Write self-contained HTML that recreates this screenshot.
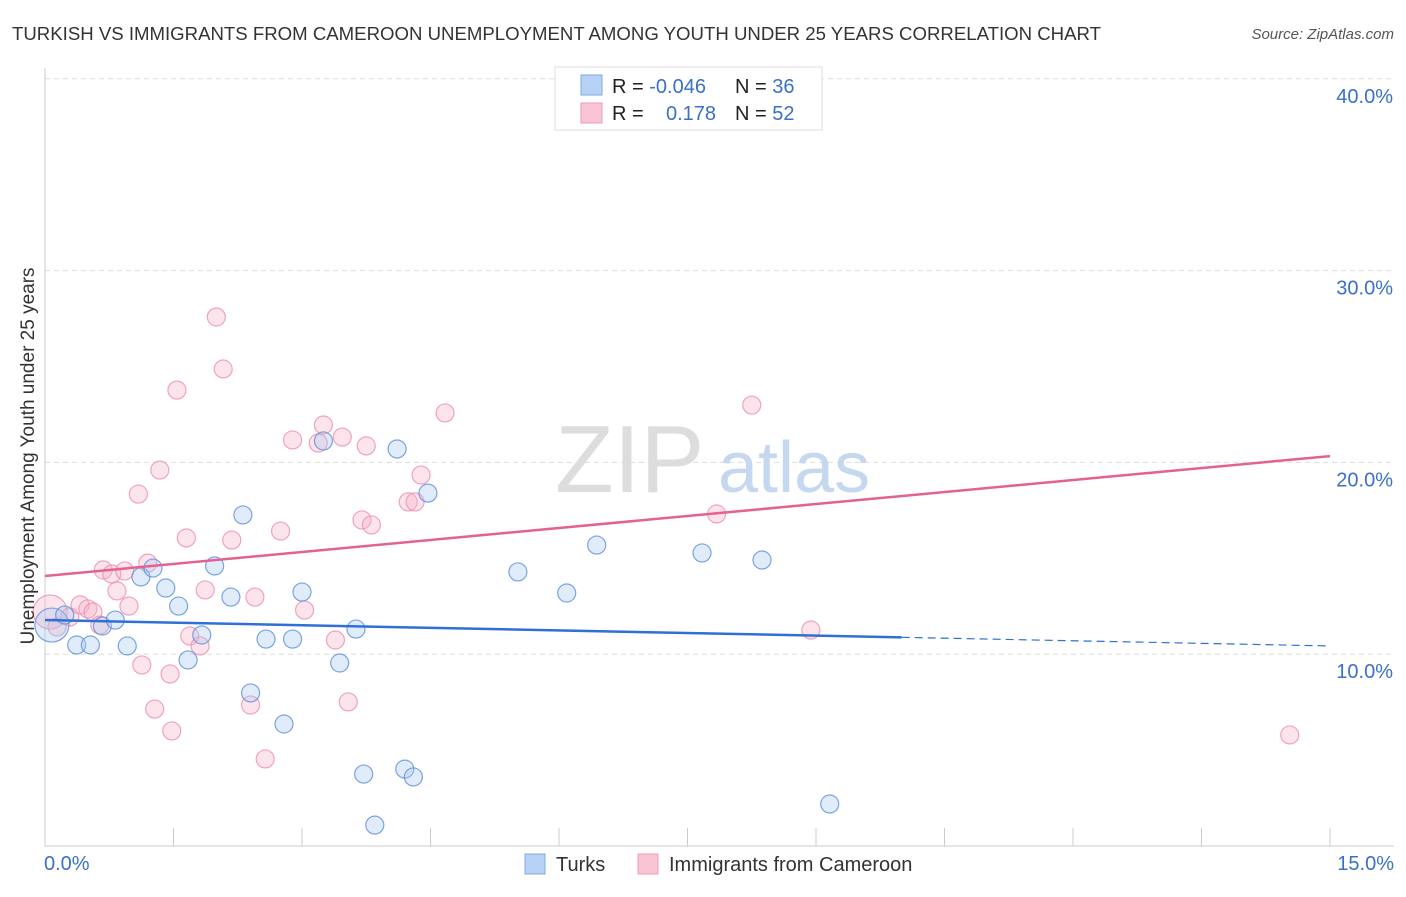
<!DOCTYPE html>
<html><head><meta charset="utf-8"><style>
body{margin:0;background:#fff;font-family:"Liberation Sans",sans-serif}
svg text{font-family:"Liberation Sans",sans-serif}
</style></head><body>
<svg width="1406" height="892" viewBox="0 0 1406 892">
<text x="12" y="40" font-size="18" fill="#333" textLength="1089" lengthAdjust="spacingAndGlyphs">TURKISH VS IMMIGRANTS FROM CAMEROON UNEMPLOYMENT AMONG YOUTH UNDER 25 YEARS CORRELATION CHART</text>
<text x="1394" y="39" font-size="15" fill="#555" font-style="italic" text-anchor="end">Source: ZipAtlas.com</text>
<g id="grid"></g>
<text x="555" y="492" font-size="96" fill="#ddd" font-family="Liberation Serif">ZIP</text>
<text x="718" y="492" font-size="72" fill="#c6d8ef">atlas</text>
<g id="axes"></g>
<g id="marks"></g>
<g>
<rect x="555" y="67" width="267" height="63" fill="#fff" stroke="#ddd"/>
<rect x="581" y="75" width="21" height="20" fill="#b8d2f5" stroke="#7fa9e4"/>
<rect x="581" y="103" width="21" height="20" fill="#f9c5d5" stroke="#ee9ab5"/>
<text x="612" y="93" font-size="20" fill="#222">R = <tspan fill="#3a70c8">-0.046</tspan></text>
<text x="735" y="93" font-size="20" fill="#222">N = <tspan fill="#3a70c8">36</tspan></text>
<text x="612" y="120" font-size="20" fill="#222">R = <tspan x="666" fill="#3a70c8">0.178</tspan></text>
<text x="735" y="120" font-size="20" fill="#222">N = <tspan fill="#3a70c8">52</tspan></text>
</g>
<g>
<rect x="525" y="854" width="20" height="20" fill="#b8d2f5" stroke="#7fa9e4"/>
<text x="556" y="871" font-size="20" fill="#333">Turks</text>
<rect x="638" y="854" width="20" height="20" fill="#f9c5d5" stroke="#ee9ab5"/>
<text x="669" y="871" font-size="20" fill="#333">Immigrants from Cameroon</text>
</g>
<text transform="translate(34,456) rotate(-90)" font-size="19" fill="#333" text-anchor="middle">Unemployment Among Youth under 25 years</text>
</svg>
<script>
const xTicks=[0,1.5,3,4.5,6,7.5,9,10.5,12,13.5,15];
const yTicks=[10,20,30,40];
const yTickLabels=["10.0%","20.0%","30.0%","40.0%"];
const xEndLabels=["0.0%","15.0%"];
const turksX=[0.08,0.23,0.37,0.53,0.67,0.82,0.96,1.12,1.26,1.41,1.56,1.67,1.83,1.98,2.17,2.31,2.40,2.58,2.79,2.89,3.00,3.25,3.44,3.63,3.72,3.85,4.11,4.20,4.30,4.47,5.52,6.09,6.44,7.67,8.37,9.16];
const turksY=[11.52,12.04,10.48,10.48,11.47,11.78,10.43,14.03,14.49,13.45,12.51,9.70,11.0,14.6,12.98,17.26,7.98,10.79,6.36,10.79,13.24,21.12,9.54,11.31,3.75,1.09,20.70,4.01,3.60,18.40,14.29,13.19,15.69,15.28,14.91,2.19];
const camX=[0.06,0.14,0.29,0.41,0.50,0.56,0.64,0.68,0.78,0.84,0.93,0.98,1.09,1.13,1.20,1.28,1.34,1.46,1.48,1.54,1.65,1.69,1.81,1.87,2.00,2.08,2.18,2.40,2.45,2.57,2.75,2.89,3.03,3.19,3.25,3.39,3.47,3.54,3.70,3.75,3.81,4.24,4.32,4.39,4.67,7.84,8.25,8.94,14.53,6.65];
const camY=[12.2,11.42,11.94,12.57,12.36,12.2,11.52,14.39,14.18,13.3,14.34,12.51,18.35,9.44,14.75,7.14,19.6,8.97,6.0,23.77,16.06,10.95,10.43,13.35,27.58,24.87,15.95,7.35,12.98,4.54,16.42,21.17,12.3,21.01,21.95,10.74,21.32,7.51,17.0,20.86,16.74,17.94,17.94,19.34,22.58,17.31,22.99,11.26,5.79,38.37];
const turksTrend=[11.78,10.43];
const camTrend=[14.08,20.33];
const turksSolidEnd=10.0;
const NS="http://www.w3.org/2000/svg";
const X=v=>45+v/15*1285, Y=v=>846-v*19.18;
function mk(t,a,p){const e=document.createElementNS(NS,t);for(const k in a)e.setAttribute(k,a[k]);p.appendChild(e);return e;}
const grid=document.getElementById('grid'),axes=document.getElementById('axes'),marks=document.getElementById('marks');
yTicks.forEach((v,i)=>{
 const l=mk('line',{x1:45,x2:1394,y1:Y(v),y2:Y(v),stroke:'#ddd','stroke-dasharray':'5,4'},grid);
 
 
 const t=mk('text',{x:1393,y:Y(v)+24,'font-size':20,fill:'#3a70c8','text-anchor':'end'},axes);
 t.textContent=yTickLabels[i];
 
 
});
let a=mk('line',{x1:45,x2:45,y1:68,y2:846,stroke:'#ccc'},axes);


a=mk('line',{x1:45,x2:1394,y1:846,y2:846,stroke:'#ccc'},axes);


xTicks.forEach(v=>{const t=mk('line',{x1:X(v),x2:X(v),y1:828,y2:846,stroke:'#ccc'},axes);
 
 });
[[0,'start',44],[15,'end',1394]].forEach((d,i)=>{const t=mk('text',{x:d[2],y:870,'font-size':20,fill:'#3a70c8','text-anchor':d[1]},axes);t.textContent=xEndLabels[i];
 
 });
function dots(xs,ys,fill,stroke,name){xs.forEach((x,i)=>{const r=(i===0)?17:9;
 const c=mk('circle',{cx:X(x),cy:Y(ys[i]),r:r,fill:fill,'fill-opacity':0.35,stroke:stroke,'stroke-width':1.2,'stroke-opacity':0.8},marks);
 
 });}
dots(camX,camY,'#f7b3c9','#ec8fae','cameroon-point');
dots(turksX,turksY,'#a9c8f0','#5b8fdb','turks-point');
const slope=(turksTrend[1]-turksTrend[0])/15;
let ln=mk('line',{x1:X(0),y1:Y(turksTrend[0]),x2:X(turksSolidEnd),y2:Y(turksTrend[0]+slope*turksSolidEnd),stroke:'#2f6fd6','stroke-width':2.5},marks);


ln=mk('line',{x1:X(turksSolidEnd),y1:Y(turksTrend[0]+slope*turksSolidEnd),x2:X(15),y2:Y(turksTrend[1]),stroke:'#2f6fd6','stroke-width':1.2,'stroke-dasharray':'8,5'},marks);


ln=mk('line',{x1:X(0),y1:Y(camTrend[0]),x2:X(15),y2:Y(camTrend[1]),stroke:'#e4628f','stroke-width':2.5},marks);


</script>
</body></html>
